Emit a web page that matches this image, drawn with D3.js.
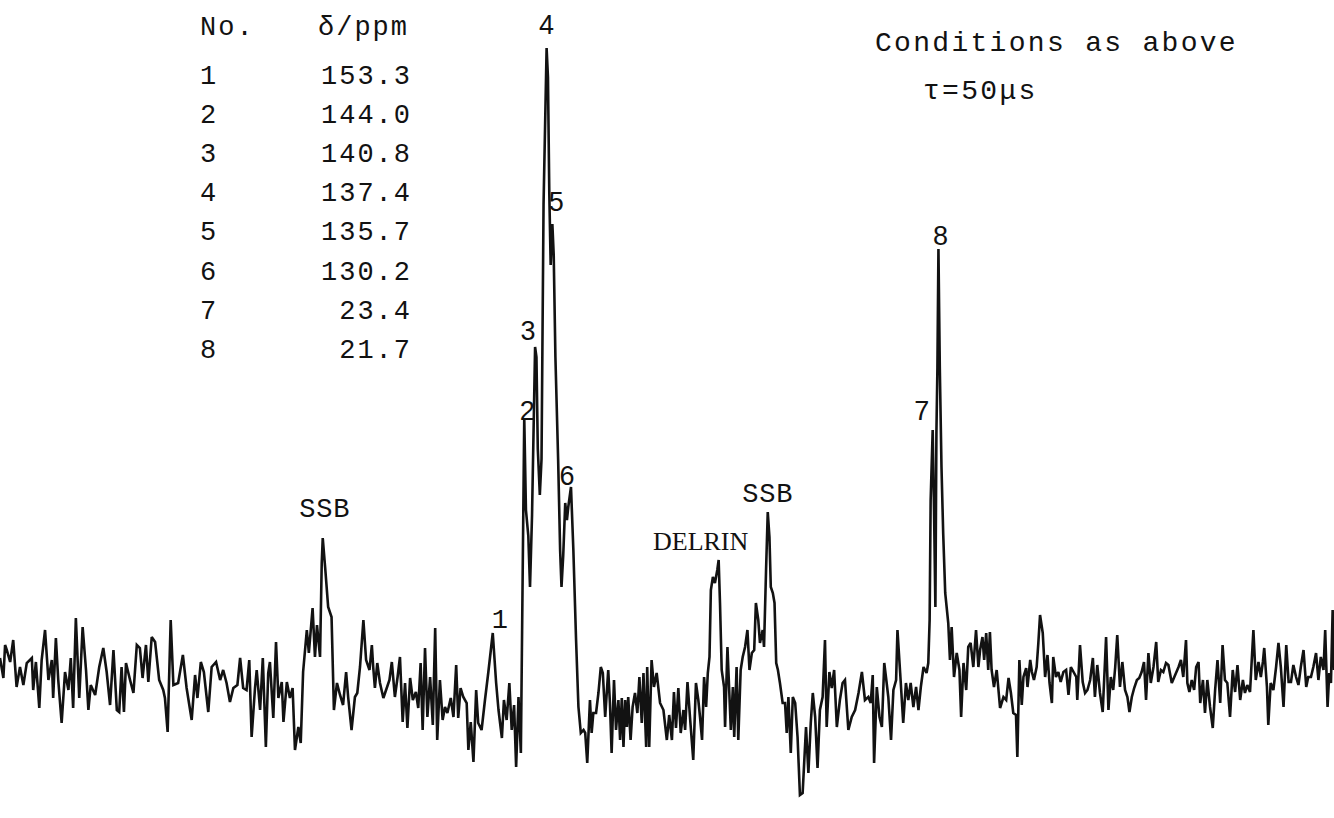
<!DOCTYPE html>
<html>
<head>
<meta charset="utf-8">
<script src="https://cdn.jsdelivr.net/npm/d3@7"></script>
<style>
  html, body { margin: 0; padding: 0; background: #fff; }
  svg { display: block; }
</style>
</head>
<body>
<svg id="chart" width="1334" height="818"></svg>
<script>
// 13C CP/MAS spectrum, dipolar dephasing (tau = 50 us)

// assigned resonances
const peakNo = ["1", "2", "3", "4", "5", "6", "7", "8"];
const peakShift = [153.3, 144.0, 140.8, 137.4, 135.7, 130.2, 23.4, 21.7];   // ppm
const peakHeight = [5.7, 27.2, 34.3, 64.2, 46.6, 20.3, 26.0, 44.1];        // a.u.
const peakShiftText = ["153.3", "144.0", "140.8", "137.4", "135.7", "130.2", "23.4", "21.7"];
const tableHeader = ["No.", "δ/ppm"];

// other signals (spinning side bands, rotor material)
const otherLabels = ["SSB", "DELRIN", "SSB"];
const otherShift = [203.5, 86.6, 72.1];
const otherHeight = [15.2, 13.0, 17.8];

const conditionLines = ["Conditions as above", "τ=50μs"];

// recorded trace: [chemical shift / ppm, intensity / a.u.]
const trace = [
[298.8,3.2],[297.8,1.2],[297.3,4.5],[296.8,4.0],[295.8,2.8],[294.9,5.0],[293.9,0.3],[292.9,2.3],[291.9,0.5],[290.9,2.7],
[289.4,3.2],[289.0,0],[288.2,2.8],[287.2,-1.8],[286.5,3.0],[285.5,6.0],[284.5,1.0],[283.5,3.0],[283.1,-0.8],[282.3,5.2],
[281.6,1.0],[280.6,-3.3],[279.6,1.8],[278.6,0],[277.9,3.2],[277.2,-1.8],[276.4,7.2],[275.4,-0.8],[274.4,6.3],[273.4,2.0],
[272.7,-2.0],[272.0,0.5],[270.7,-0.5],[269.5,2.3],[268.3,4.2],[267.3,1.8],[266.3,-1.5],[265.3,4.0],[264.3,-2.0],[263.6,-2.2],
[262.9,2.3],[262.2,-2.2],[261.6,2.7],[260.4,1.0],[259.4,-0.3],[258.4,4.5],[257.5,4.2],[256.7,1.2],[255.7,4.5],[255.0,0.8],
[254.0,5.3],[253.0,4.8],[251.8,1.0],[250.6,0],[250.1,-0.8],[249.3,-4.2],[248.4,7.0],[247.6,0.5],[246.2,0.7],[244.8,3.5],
[243.7,0.2],[242.2,-3.0],[241.2,1.5],[240.5,-0.8],[239.5,2.8],[238.6,1.8],[237.3,-2.2],[236.3,2.3],[235.0,2.8],[233.8,1.0],
[232.9,2.0],[231.9,0.7],[230.9,-1.2],[229.9,0.2],[228.7,0.5],[227.9,3.2],[227.0,0.2],[226.0,0],[225.2,3.0],[224.5,-4.7],
[223.5,0.2],[223.0,2.0],[222.0,-2.0],[221.2,3.2],[220.3,-5.7],[219.6,1.7],[219.1,2.8],[218.1,-2.8],[217.3,4.8],[216.6,-0.8],
[215.6,0.8],[215.1,-3.2],[214.1,0.8],[213.2,-0.8],[212.4,0.2],[211.7,-6.0],[210.7,-3.7],[210.0,-5.3],[209.3,1.8],[208.2,6.0],
[207.6,3.7],[206.5,8.2],[205.8,3.3],[205.2,6.5],[204.3,3.3],[203.8,12.7],[203.5,15.2],[202.8,12.3],[201.9,8.3],[200.9,7.3],
[200.2,-2.0],[199.3,0.7],[198.4,-0.5],[197.5,-1.5],[196.6,1.8],[196.0,-0.7],[195.0,-4.0],[194.0,-0.7],[193.3,-0.3],[192.5,2.3],
[191.5,7.0],[190.7,3.0],[189.7,2.0],[189.0,4.5],[188.6,2.3],[188.1,0.2],[187.4,2.7],[186.6,0.7],[185.6,-0.8],[184.8,0],
[183.8,1.0],[183.1,2.8],[182.2,-0.7],[181.4,1.3],[180.7,3.3],[179.9,-3.2],[179.2,0.7],[178.5,-3.8],[177.7,1.2],[176.9,-1.0],
[176.0,-0.2],[175.3,-1.8],[174.6,2.7],[174.0,-4.0],[173.3,4.2],[172.6,-2.7],[171.8,1.3],[171.0,-3.5],[170.3,6.2],[169.7,-5.0],
[168.9,1.0],[168.1,-3.0],[167.4,-1.7],[166.7,-2.3],[165.7,-0.8],[164.9,-2.7],[164.1,2.5],[163.5,-2.8],[162.8,0.2],[162.0,-0.7],
[161.0,-1.3],[160.5,-6.0],[159.8,-3.2],[159.0,-7.2],[158.2,0],[157.6,-3.3],[156.6,-4.0],[155.6,-1.0],[154.6,1.8],[153.8,4.2],
[153.3,5.7],[152.3,0.7],[151.6,-2.0],[150.6,-4.8],[150.0,-1.0],[149.2,-3.0],[148.4,0.7],[147.7,-4.0],[147.0,-1.5],[146.4,-7.7],
[145.7,-0.7],[145.0,-6.3],[144.0,27.2],[143.5,18.0],[142.8,15.4],[142.3,10.3],[141.7,17.5],[140.8,34.3],[140.4,33.3],[140.0,24.1],
[139.4,19.5],[138.9,23.1],[138.3,48.6],[137.4,64.2],[137.0,61.3],[136.6,49.6],[136.2,42.5],[135.7,46.6],[135.3,43.5],[134.8,33.3],
[134.0,23.1],[133.4,13.9],[133.0,10.3],[132.5,13.4],[131.9,18.7],[131.4,17.0],[131.0,18.3],[130.2,20.3],[129.5,14.0],[128.7,5.0],
[128.0,-1.7],[127.3,-4.3],[126.5,-4.0],[126.0,-4.3],[125.4,-7.3],[124.6,-1.0],[124.1,-4.3],[123.6,-2.3],[122.8,-2.3],[122.1,-0.3],
[121.4,2.3],[120.8,1.7],[120.1,-2.7],[119.2,2.0],[118.7,-1.3],[118.2,-6.3],[117.5,1.0],[116.9,-4.0],[116.2,-1.0],[115.7,-5.0],
[115.2,-0.8],[114.7,-5.7],[114.2,-1.0],[113.7,-3.7],[113.3,-0.7],[112.6,-5.0],[112.0,-1.7],[111.3,-0.3],[110.6,-2.3],[110.0,1.3],
[109.3,-3.3],[108.8,1.7],[108.0,-5.7],[107.7,2.3],[107.1,-5.7],[106.4,3.0],[105.7,0.3],[104.9,1.7],[103.9,-1.3],[102.9,-2.0],
[101.9,-5.0],[101.2,-2.5],[100.4,-5.0],[99.8,-0.2],[99.2,-3.8],[98.5,0.2],[97.8,-4.3],[97.0,-2.0],[96.5,-4.0],[95.8,0.8],
[95.0,-3.0],[94.1,-7.0],[93.3,0.7],[92.6,-1.0],[92.1,-2.7],[91.5,-5.0],[90.9,1.3],[90.3,-1.7],[89.8,1.7],[89.3,3.3],
[88.9,10.0],[88.3,11.3],[87.7,10.7],[87.0,12.0],[86.6,13.0],[86.2,8.7],[85.7,2.0],[85.0,0.3],[84.7,-3.7],[84.0,4.3],
[83.4,-0.7],[83.0,-4.0],[82.4,0.3],[82.0,-4.7],[81.3,2.3],[80.8,-5.0],[80.1,2.0],[79.5,3.3],[78.8,4.3],[78.1,6.0],
[77.5,2.0],[76.8,3.7],[76.1,4.0],[75.6,8.7],[74.9,7.0],[74.4,4.7],[73.6,6.0],[73.2,4.3],[72.6,12.0],[72.1,17.8],
[71.6,15.3],[71.2,10.3],[70.6,9.7],[70.1,8.7],[69.6,2.7],[69.1,2.0],[68.5,0.7],[67.7,-1.3],[67.0,-1.3],[66.5,-4.3],
[66.0,-0.7],[65.3,-6.3],[64.7,-0.7],[64.0,-1.3],[63.3,-4.7],[62.6,-10.5],[61.8,-10.3],[60.8,-3.7],[60.1,-8.3],[59.4,-3.3],
[58.8,-0.3],[58.1,-2.7],[57.4,-7.8],[56.7,-2.0],[55.9,-0.7],[55.2,5.0],[54.7,-3.7],[53.9,1.8],[53.2,0.2],[52.5,2.0],
[51.7,-3.7],[50.8,-1.0],[50.0,0.7],[49.3,1.0],[48.3,-4.0],[47.3,-2.7],[46.3,-2.0],[45.3,-0.3],[44.3,1.8],[43.4,-1.0],
[42.4,-0.7],[41.7,-1.3],[41.1,1.5],[40.7,-7.3],[39.9,0.3],[39.1,-2.7],[38.4,-3.7],[37.7,2.7],[37.2,1.3],[36.5,-0.7],
[35.7,-5.0],[35.0,0],[34.2,1.0],[33.8,6.0],[33.0,1.7],[32.1,-3.3],[31.3,0.7],[30.6,-1.0],[29.9,0.7],[29.1,-1.7],
[28.3,0.3],[27.6,-2.0],[26.9,0.3],[26.1,2.3],[25.2,1.7],[24.7,2.7],[24.3,7.0],[24.0,19.0],[23.4,26.0],[23.0,18.0],
[22.6,8.3],[22.3,25.7],[22.0,32.3],[21.7,44.1],[21.3,32.3],[20.8,22.3],[20.3,15.7],[19.7,9.7],[18.8,6.7],[18.3,3.0],
[17.8,6.3],[17.1,1.3],[16.3,3.7],[15.5,2.0],[15.0,-2.7],[14.3,2.7],[13.5,0],[12.9,4.3],[12.2,4.7],[11.4,2.3],
[10.6,6.0],[9.9,2.3],[9.4,4.0],[8.7,5.3],[8.2,3.0],[7.6,5.7],[7.0,2.0],[6.5,5.8],[6.0,2.0],[5.3,0.3],
[4.5,2.0],[3.5,-1.8],[2.5,-0.7],[1.7,-1.0],[1.0,1.2],[0.3,-0.3],[-0.4,-2.3],[-1.2,-2.5],[-1.6,-6.7],[-2.2,3.0],
[-2.9,-1.5],[-3.4,1.3],[-4.2,2.2],[-4.6,0.3],[-5.4,3.0],[-5.9,1.8],[-6.5,1.0],[-7.3,2.3],[-7.8,4.7],[-8.3,7.5],
[-9.1,5.7],[-9.8,1.3],[-10.5,3.5],[-11.1,0.7],[-11.8,-1.3],[-12.2,3.3],[-13.0,1.3],[-13.7,1.8],[-14.4,0.8],[-15.2,1.8],
[-16.0,2.0],[-16.7,-0.5],[-17.4,2.3],[-18.2,1.8],[-19.0,1.3],[-19.3,-1.0],[-20.1,4.5],[-20.9,0.8],[-21.6,-0.3],[-22.3,0],
[-23.1,1.0],[-23.9,3.2],[-24.5,-0.7],[-25.2,2.5],[-26.0,-0.3],[-26.8,-2.2],[-27.5,3.0],[-27.8,5.3],[-28.5,-2.0],[-29.2,1.3],
[-29.9,0],[-30.5,2.3],[-31.1,5.5],[-31.9,0.3],[-32.6,2.8],[-33.4,0],[-34.1,-0.7],[-34.7,-2.2],[-35.4,-0.7],[-36.1,0.2],
[-36.9,1.0],[-37.6,1.2],[-38.3,1.8],[-39.0,2.8],[-39.6,-1.0],[-40.3,3.7],[-41.0,0.7],[-41.8,2.3],[-42.6,4.8],[-43.2,0.8],
[-44.0,2.0],[-44.7,1.8],[-45.5,2.7],[-46.2,2.5],[-47.2,0.7],[-48.2,1.5],[-49.2,2.3],[-49.9,3.0],[-50.6,1.3],[-51.4,5.0],
[-51.8,0.7],[-52.4,-0.2],[-53.1,1.0],[-53.8,0],[-54.4,2.3],[-55.1,2.8],[-55.6,-1.3],[-56.4,1.0],[-57.0,-2.3],[-57.7,1.0],
[-58.5,-1.7],[-59.3,-3.8],[-60.0,0],[-60.7,3.0],[-61.5,-1.3],[-62.2,4.5],[-62.9,1.0],[-63.6,0.7],[-64.4,-2.7],[-65.2,2.0],
[-65.9,-0.2],[-66.6,2.5],[-67.4,-1.0],[-68.2,1.0],[-68.8,-0.3],[-69.5,0.5],[-70.3,-0.2],[-71.3,6.0],[-72.0,1.0],[-72.8,2.8],
[-73.5,1.3],[-74.1,2.8],[-74.5,4.2],[-75.3,0.3],[-75.7,-3.5],[-76.4,0.7],[-77.2,0],[-78.0,2.3],[-78.7,4.7],[-79.4,2.3],
[-80.2,-1.7],[-81.0,4.5],[-81.7,0.8],[-82.4,0.8],[-83.1,2.5],[-83.9,1.3],[-84.6,0.5],[-85.3,2.3],[-86.1,4.0],[-86.9,0.3],
[-87.5,1.3],[-88.3,1.3],[-89.0,2.3],[-89.8,3.7],[-90.5,1.0],[-91.2,3.3],[-92.0,2.0],[-92.5,6.0],[-93.2,-1.7],[-93.7,1.7],
[-94.2,0.7],[-94.7,8.0],[-95.1,2.0]
];

const W = 1334, H = 818;
const svg = d3.select("#chart");

const x = d3.scaleLinear().domain([298.8, -95.1]).range([0, W]);
const y = d3.scaleLinear().domain([-12.8, 69]).range([H, 0]);

const ink = "#121212";
const mono = "Liberation Mono, monospace";

// spectrum trace
svg.append("path")
  .datum(trace)
  .attr("d", d3.line().x(d => x(d[0])).y(d => y(d[1])))
  .attr("fill", "none")
  .attr("stroke", ink)
  .attr("stroke-width", 2.6)
  .attr("stroke-linejoin", "miter")
  .attr("stroke-miterlimit", 3);

// peak numbers next to each resonance
const labelFont = 27;
const labelDx = [7, 3, -7, 0, 4, -4, -11, 2];
const labelDy = [-15, -8, -17, -24, -23, -12, -20, -14];
svg.append("g").selectAll("text")
  .data(peakNo)
  .join("text")
  .attr("x", (d, i) => x(peakShift[i]) + labelDx[i])
  .attr("y", (d, i) => y(peakHeight[i]) + labelDy[i] + labelFont * 0.36)
  .attr("text-anchor", "middle")
  .attr("font-family", (d, i) => i === 0 ? mono : "Liberation Sans, Arial, sans-serif")
  .attr("font-size", labelFont)
  .attr("fill", ink)
  .text(d => d);

// side band / rotor labels
const otherDx = [2, -18, 0];
const otherDy = [-30, -19, -19];
const otherFont = [mono, "Liberation Serif, serif", mono];
const otherSize = [27, 26, 27];
svg.append("g").selectAll("text")
  .data(otherLabels)
  .join("text")
  .attr("x", (d, i) => x(otherShift[i]) + otherDx[i])
  .attr("y", (d, i) => y(otherHeight[i]) + otherDy[i] + otherSize[i] * 0.33)
  .attr("text-anchor", "middle")
  .attr("font-family", (d, i) => otherFont[i])
  .attr("font-size", (d, i) => otherSize[i])
  .attr("letter-spacing", (d, i) => i === 1 ? 0 : 0.8)
  .attr("fill", ink)
  .text(d => d);

// shift table
const tableFont = 27, tableSpacing = 2;
const colNo = 200, colShift = 318, colShiftRight = 412, headerBase = 35, rowBase0 = 84, rowStep = 39.1;
const table = svg.append("g")
  .attr("font-family", mono)
  .attr("font-size", tableFont)
  .attr("letter-spacing", tableSpacing)
  .attr("fill", ink);
table.append("text").attr("x", colNo).attr("y", headerBase).text(tableHeader[0]);
table.append("text").attr("x", colShift).attr("y", headerBase).text(tableHeader[1]);
table.selectAll("text.no")
  .data(peakNo)
  .join("text").attr("class", "no")
  .attr("x", colNo)
  .attr("y", (d, i) => rowBase0 + i * rowStep)
  .text(d => d);
table.selectAll("text.shift")
  .data(peakShiftText)
  .join("text").attr("class", "shift")
  .attr("x", colShiftRight)
  .attr("y", (d, i) => rowBase0 + i * rowStep)
  .attr("text-anchor", "end")
  .text(d => d);

// acquisition note
const note = svg.append("g")
  .attr("font-family", mono)
  .attr("font-size", 28)
  .attr("letter-spacing", 2.3)
  .attr("fill", ink);
note.append("text").attr("x", 875).attr("y", 51).text(conditionLines[0]);
note.append("text").attr("x", 923).attr("y", 99).text(conditionLines[1]);
</script>
</body>
</html>
